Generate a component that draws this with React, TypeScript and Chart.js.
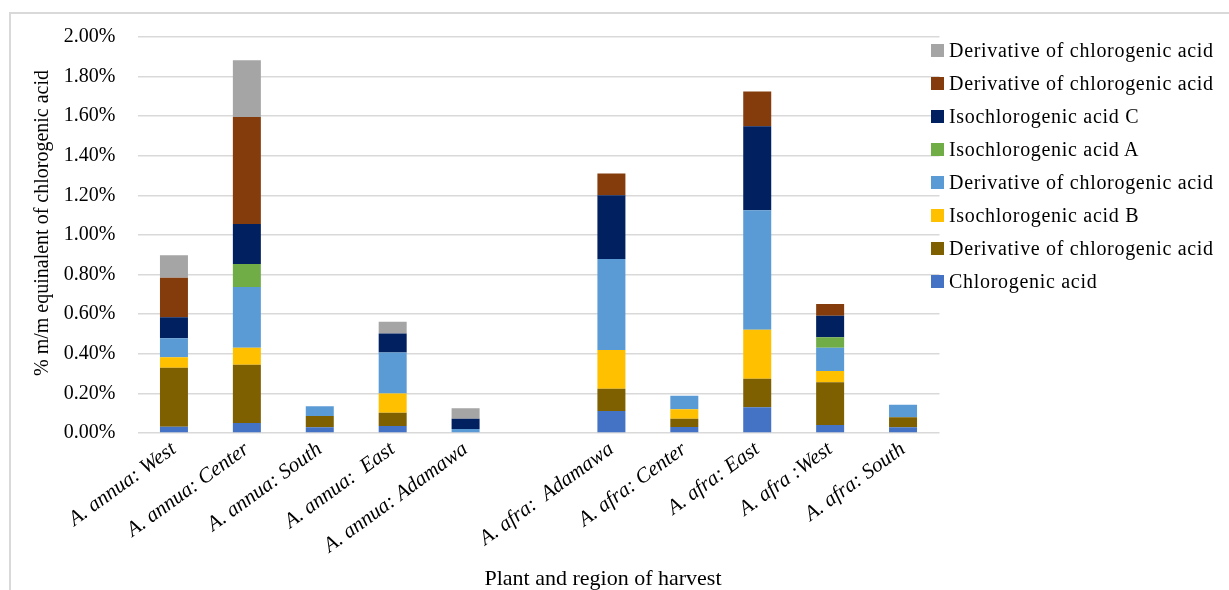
import React, { useEffect, useRef } from "react";
import { Chart, registerables } from "chart.js";

Chart.register(...registerables);

// Harvest sites (an empty slot separates the two species)
const categories = [
  "A. annua: West",
  "A. annua: Center",
  "A. annua: South",
  "A. annua:  East",
  "A. annua: Adamawa",
  "",
  "A. afra:  Adamawa",
  "A. afra: Center",
  "A. afra: East",
  "A. afra :West",
  "A. afra: South",
];

// Content per compound, % m/m chlorogenic acid equivalent (stack order, bottom to top)
const chlorogenicAcid = [0.032, 0.05, 0.029, 0.035, 0, null, 0.111, 0.03, 0.13, 0.04, 0.029];
const derivativeA = [0.297, 0.295, 0.057, 0.067, 0, null, 0.113, 0.042, 0.144, 0.216, 0.05];
const isochlorogenicB = [0.053, 0.085, 0, 0.098, 0, null, 0.195, 0.048, 0.247, 0.057, 0];
const derivativeB = [0.097, 0.308, 0.049, 0.207, 0.02, null, 0.46, 0.068, 0.604, 0.117, 0.064];
const isochlorogenicA = [0, 0.115, 0, 0, 0, null, 0, 0, 0, 0.053, 0];
const isochlorogenicC = [0.105, 0.203, 0, 0.096, 0.052, null, 0.322, 0, 0.424, 0.109, 0];
const derivativeC = [0.2, 0.54, 0, 0, 0, null, 0.109, 0, 0.176, 0.059, 0];
const derivativeD = [0.114, 0.286, 0, 0.059, 0.053, null, 0, 0, 0, 0, 0];

const seriesNames = [
  "Chlorogenic acid",
  "Derivative of chlorogenic acid",
  "Isochlorogenic acid B",
  "Derivative of chlorogenic acid",
  "Isochlorogenic acid A",
  "Isochlorogenic acid C",
  "Derivative of chlorogenic acid",
  "Derivative of chlorogenic acid",
];
const seriesValues = [
  chlorogenicAcid,
  derivativeA,
  isochlorogenicB,
  derivativeB,
  isochlorogenicA,
  isochlorogenicC,
  derivativeC,
  derivativeD,
];
const seriesColors = [
  "#4472C4",
  "#7F6000",
  "#FFC000",
  "#5B9BD5",
  "#70AD47",
  "#002060",
  "#843C0C",
  "#A5A5A5",
];

const yTicks = [0, 0.2, 0.4, 0.6, 0.8, 1.0, 1.2, 1.4, 1.6, 1.8, 2.0];

const Y_TITLE = "% m/m equinalent of chlorogenic acid";
const X_TITLE = "Plant and region of harvest";

const FONT = '"Liberation Serif", "Times New Roman", serif';

// Axis titles drawn on the canvas after the chart
const axisTitles = {
  id: "axisTitles",
  afterDraw(chart: any) {
    const { ctx, chartArea } = chart;
    ctx.save();
    ctx.fillStyle = "#000";
    ctx.textAlign = "center";
    ctx.textBaseline = "middle";
    ctx.font = `20px ${FONT}`;
    ctx.save();
    ctx.translate(43, (chartArea.top + chartArea.bottom) / 2 - 12);
    ctx.rotate(-Math.PI / 2);
    ctx.fillText(Y_TITLE, 0, 0);
    ctx.restore();
    ctx.font = `22px ${FONT}`;
    ctx.textBaseline = "alphabetic";
    ctx.fillText(X_TITLE, 603, 585);
    ctx.restore();
  },
};

export default function App() {
  const canvasRef = useRef<HTMLCanvasElement | null>(null);

  useEffect(() => {
    if (!canvasRef.current) return;
    const chart = new Chart(canvasRef.current, {
      type: "bar",
      data: {
        labels: categories,
        datasets: seriesValues.map((values, i) => ({
          label: seriesNames[i],
          data: values,
          backgroundColor: seriesColors[i],
          borderWidth: 0,
          categoryPercentage: 1,
          barPercentage: 0.384,
        })),
      },
      options: {
        responsive: false,
        maintainAspectRatio: false,
        animation: false,
        layout: { padding: { left: 0, top: 37, right: 289.5, bottom: 0 } },
        plugins: {
          legend: { display: false },
          tooltip: { enabled: false },
        },
        scales: {
          x: {
            stacked: true,
            grid: { display: false, drawTicks: false },
            border: { display: false },
            ticks: {
              autoSkip: false,
              minRotation: 36,
              maxRotation: 36,
              padding: 4,
              color: "#000",
              font: { family: FONT, size: 21, style: "italic" },
            },
            afterFit(scale: any) {
              scale.height = 157;
            },
          },
          y: {
            stacked: true,
            min: 0,
            max: 2,
            afterBuildTicks(scale: any) {
              scale.ticks = yTicks.map((v) => ({ value: v }));
            },
            grid: { color: "#d9d9d9", lineWidth: 1.6, drawTicks: false },
            border: { display: false },
            ticks: {
              padding: 22,
              color: "#000",
              font: { family: FONT, size: 20 },
              callback: (v: any) => Number(v).toFixed(2) + "%",
            },
            afterFit(scale: any) {
              scale.width = 137.5;
            },
          },
        },
      },
      plugins: [axisTitles],
    });
    return () => chart.destroy();
  }, []);

  const legendOrder = seriesNames.map((_, i) => i).reverse();

  return (
    <div style={{ position: "absolute", left: 0, top: 0, width: 1229, height: 590, overflow: "hidden", background: "#fff" }}>
      <div
        style={{
          position: "absolute",
          left: 9,
          top: 12,
          width: 1220,
          height: 578,
          borderLeft: "2px solid #d9d9d9",
          borderTop: "2px solid #d9d9d9",
          boxSizing: "border-box",
        }}
      />
      <canvas ref={canvasRef} width={1229} height={590} style={{ position: "absolute", left: 0, top: 0 }} />
      <div style={{ position: "absolute", left: 931, top: 33.5 }}>
        {legendOrder.map((idx) => (
          <div key={idx} style={{ display: "flex", alignItems: "center", height: 33 }}>
            <span style={{ width: 13, height: 13, background: seriesColors[idx], display: "inline-block", marginRight: 5 }} />
            <span style={{ fontFamily: FONT, fontSize: 20, letterSpacing: 0.7, color: "#000", whiteSpace: "nowrap" }}>
              {seriesNames[idx]}
            </span>
          </div>
        ))}
      </div>
    </div>
  );
}
